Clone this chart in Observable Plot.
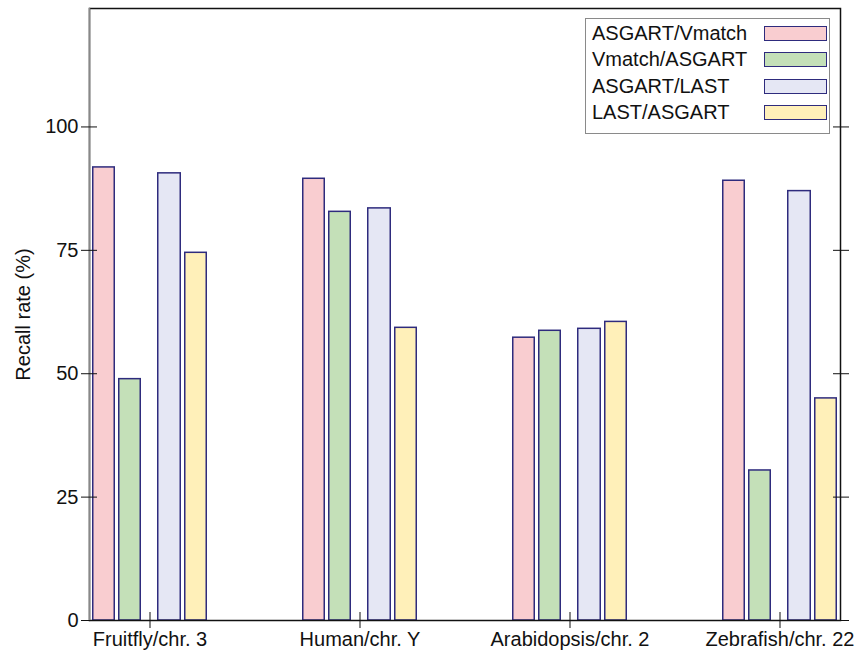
<!DOCTYPE html>
<html><head><meta charset="utf-8">
<script src="https://cdn.jsdelivr.net/npm/d3@7"></script>
<script src="https://cdn.jsdelivr.net/npm/@observablehq/plot@0.6"></script>
<style>
body{margin:0;background:#fff;}
#wrap{position:relative;width:866px;height:655px;font-family:"Liberation Sans",Arial,sans-serif;}
#legend{position:absolute;left:585px;top:18px;width:245px;height:116px;box-sizing:border-box;border:1.5px solid #8a8a8a;background:#fff;}
.row{position:absolute;left:6px;right:2px;height:26px;display:flex;align-items:center;justify-content:space-between;font-size:20px;color:#111;}
.sw{width:61px;height:13px;border:1.5px solid #2e2b7d;}
</style></head>
<body>
<div id="wrap"><div id="chart"></div><div id="legend"></div></div>
<script>
const groups = ["Fruitfly/chr. 3", "Human/chr. Y", "Arabidopsis/chr. 2", "Zebrafish/chr. 22"];
const series = ["ASGART/Vmatch", "Vmatch/ASGART", "ASGART/LAST", "LAST/ASGART"];
const asgartVmatch = [91.8, 89.5, 57.3, 89.1];
const vmatchAsgart = [48.9, 82.8, 58.7, 30.4];
const asgartLast = [90.6, 83.5, 59.1, 87.0];
const lastAsgart = [74.5, 59.3, 60.5, 45.0];
const yTicks = [0, 25, 50, 75, 100];

const colors = ["#f9cdd0", "#c4e0b8", "#e5e7f4", "#fff0b9"];
const strokeColor = "#2e2b7d";
const values = [asgartVmatch, vmatchAsgart, asgartLast, lastAsgart];
const data = groups.flatMap((g, i) => series.map((s, j) => ({group: g, series: s, value: values[j][i]})));
const insets = [[0.75, 92.75], [26.75, 66.75], [65.75, 26.75], [92.75, 0.75]];
const font = '"Liberation Sans", Arial, sans-serif';

const chart = Plot.plot({
  width: 866, height: 655,
  marginLeft: 89, marginRight: 26, marginTop: 8, marginBottom: 35,
  style: {fontFamily: font, fontSize: "20px", color: "#111", background: "#fff"},
  x: {domain: groups, paddingInner: 0.454, paddingOuter: 0.0095, label: null},
  y: {domain: [0, 124], label: null},
  color: {domain: series, range: colors},
  marks: [
    ...series.map((s, j) => Plot.barY(data.filter(d => d.series === s), {
      x: "group", y: "value", fill: "series", stroke: strokeColor, strokeWidth: 1.5,
      insetLeft: insets[j][0], insetRight: insets[j][1]
    })),
    Plot.frame({stroke: "#111", strokeWidth: 1.5}),
    Plot.frame({anchor: "left", stroke: "#888", strokeWidth: 1.5}),
    Plot.axisY({ticks: yTicks, tickSize: 16, dx: 8, tickPadding: 3, label: "Recall rate (%)", labelArrow: "none", labelAnchor: "center", labelOffset: 74, stroke: "#111"}),
    Plot.axisY({anchor: "right", ticks: yTicks, tickSize: 16, dx: -8, tickFormat: () => "", label: null, stroke: "#111"}),
    Plot.axisX({tickSize: 16, dy: -8, tickPadding: 3, label: null, stroke: "#111"})
  ]
});
document.getElementById("chart").append(chart);

const legend = document.getElementById("legend");
series.forEach((s, j) => {
  const row = document.createElement("div");
  row.className = "row";
  row.style.top = (1 + j * 26.5) + "px";
  const t = document.createElement("span");
  t.textContent = s;
  const sw = document.createElement("div");
  sw.className = "sw";
  sw.style.background = colors[j];
  row.append(t, sw);
  legend.append(row);
});
</script>
</body></html>
